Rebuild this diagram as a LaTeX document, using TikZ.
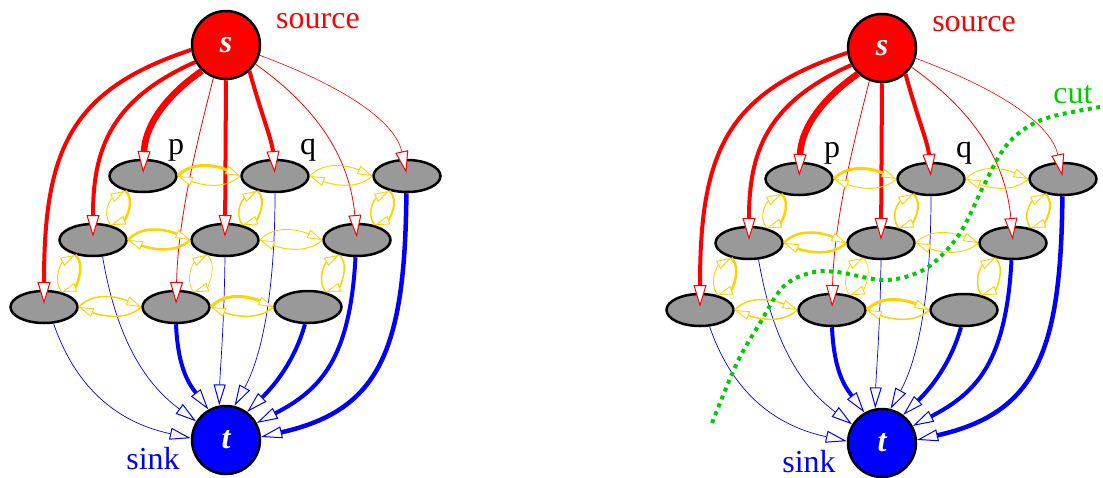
\documentclass[tikz,border=0pt]{standalone}
\usepackage{fontspec}
\setmainfont{Liberation Serif}
\usetikzlibrary{arrows.meta,shapes.geometric}
\definecolor{fred}{RGB}{255,0,0}
\definecolor{fblue}{RGB}{0,0,255}
\definecolor{fgold}{RGB}{255,210,0}
\definecolor{fgray}{RGB}{153,153,153}
\definecolor{fgreen}{RGB}{0,204,0}
\tikzset{
  pixnode/.style={ellipse, draw=black, fill=fgray, line width=2.5pt, minimum width=67pt, minimum height=32pt, inner sep=0pt},
  term/.style={circle, draw=black, line width=2.5pt, minimum size=68pt, inner sep=0pt, text=white, font=\rmfamily\fontsize{32}{32}\selectfont\bfseries\itshape},
  lbl/.style={anchor=base, inner sep=0pt, font=\rmfamily\fontsize{32}{32}\selectfont},
  redarrow/.style={draw=fred, shorten >=3pt, -{Triangle[length=22pt,width=13pt,fill=white,line width=1pt]}},
  bluearrow/.style={draw=fblue, -{Triangle[length=21pt,width=12pt,fill=white,line width=1pt]}},
  nlink/.style={draw=fgold, -{Triangle[length=15pt,width=9pt,fill=white,line width=0.9pt]}},
  cutline/.style={draw=fgreen, line width=4pt, dash pattern=on 4pt off 4.5pt},
}
% horizontal neighbour pair: #1 left, #2 right, #3 width of upper arc, #4 width of lower arc
\newcommand{\hpair}[4]{%
  \draw[nlink, line width=#3] (#1.east) .. controls +(16,-17) and +(-20,-9) .. (#2.west);
  \draw[nlink, line width=#4] (#2.west) .. controls +(-16,15) and +(20,8) .. (#1.east);
}
% diagonal neighbour pair: #1 upper, #2 lower, #3 width of left arc (up), #4 width of right arc (down)
\newcommand{\vpair}[4]{%
  \draw[nlink, line width=#3] (#2.40) .. controls +(-10,-14) and +(-13,7) .. (#1.220);
  \draw[nlink, line width=#4] (#1.220) .. controls +(11,10) and +(14,-5) .. (#2.40);
}
\newcommand{\flowgraph}[1]{%
  \node[term, fill=fred] (#1s) at (226,45) {s};
  \node[term, fill=fblue] (#1t) at (226,440) {t};
  \node[pixnode] (#1A) at (143,176) {};
  \node[pixnode] (#1B) at (275,176) {};
  \node[pixnode] (#1C) at (407,176) {};
  \node[pixnode] (#1D) at (93,240) {};
  \node[pixnode] (#1E) at (225,240) {};
  \node[pixnode] (#1F) at (357,240) {};
  \node[pixnode] (#1G) at (44,307) {};
  \node[pixnode] (#1H) at (176,307) {};
  \node[pixnode] (#1I) at (308,307) {};
  % labels
  \node[lbl, text=fred] (#1src) at (318,28) {source};
  \node[lbl, text=fblue] (#1snk) at (153,469) {sink};
  \node[lbl] (#1p) at (176,154) {p};
  \node[lbl] (#1q) at (308,154) {q};
  % source links
  \draw[redarrow, line width=4pt] (#1s.188) .. controls (70,90) and (44,150) .. (#1G.center);
  \draw[redarrow, line width=4pt] (#1s.209) .. controls (110,100) and (93,150) .. (#1D.center);
  \draw[redarrow, line width=6.5pt] (#1s.227) .. controls (160,100) and (145,130) .. (#1A.center);
  \draw[redarrow, line width=0.8pt] (#1s.249) .. controls (195,150) and (178,220) .. (#1H.center);
  \draw[redarrow, line width=4pt] (#1s.270) -- (#1E.center);
  \draw[redarrow, line width=4pt] (#1s.312) .. controls (260,110) and (272,140) .. (#1B.center);
  \draw[redarrow, line width=0.8pt] (#1s.327) .. controls (320,110) and (350,160) .. (#1F.center);
  \draw[redarrow, line width=0.6pt] (#1s.343) .. controls (340,85) and (395,120) .. (#1C.center);
  % sink links
  \draw[bluearrow, line width=0.7pt] (#1G.300) .. controls (80,400) and (130,425) .. (#1t.177);
  \draw[bluearrow, line width=0.7pt] (#1D.300) .. controls (115,330) and (140,380) .. (#1t.148);
  \draw[bluearrow, line width=4pt] (#1H.south) .. controls (178,370) and (190,385) .. (#1t.120);
  \draw[bluearrow, line width=0.7pt] (#1E.south) .. controls (224,330) and (220,370) .. (#1t.101);
  \draw[bluearrow, line width=0.7pt] (#1B.south) .. controls (275,300) and (260,360) .. (#1t.76);
  \draw[bluearrow, line width=4pt] (#1I.260) .. controls (295,360) and (275,385) .. (#1t.53);
  \draw[bluearrow, line width=4pt] (#1F.265) .. controls (350,360) and (320,390) .. (#1t.29);
  \draw[bluearrow, line width=4.5pt] (#1C.268) .. controls (405,350) and (380,410) .. (#1t.5);
  % neighbourhood links
  \hpair{#1A}{#1B}{3pt}{1pt}
  \hpair{#1B}{#1C}{1pt}{1pt}
  \hpair{#1D}{#1E}{2.5pt}{2.5pt}
  \hpair{#1E}{#1F}{0.9pt}{1pt}
  \hpair{#1G}{#1H}{1.5pt}{1.5pt}
  \hpair{#1H}{#1I}{3pt}{1.5pt}
  \vpair{#1A}{#1D}{1pt}{2.5pt}
  \vpair{#1B}{#1E}{1.5pt}{2pt}
  \vpair{#1C}{#1F}{1.5pt}{2pt}
  \vpair{#1D}{#1G}{1pt}{2.5pt}
  \vpair{#1E}{#1H}{0.7pt}{0.7pt}
  \vpair{#1F}{#1I}{1.5pt}{1.5pt}
}
\begin{document}
\begin{tikzpicture}[x=1pt,y=-1pt]
  \useasboundingbox (0,0) rectangle (1103,477);
  \flowgraph{L}
  \begin{scope}[shift={(656,3)}]
    \flowgraph{R}
  \end{scope}
  \draw[cutline] plot[smooth, tension=0.6] coordinates {(712,423) (737,363) (760,323) (783,287) (810,273) (837,272) (883,280) (917,273) (940,257) (962,230) (983,187) (1003,150) (1023,130) (1050,117) (1100,107)};
  \node[lbl, text=fgreen] (cutlbl) at (1073,103) {cut};
\end{tikzpicture}
\end{document}
